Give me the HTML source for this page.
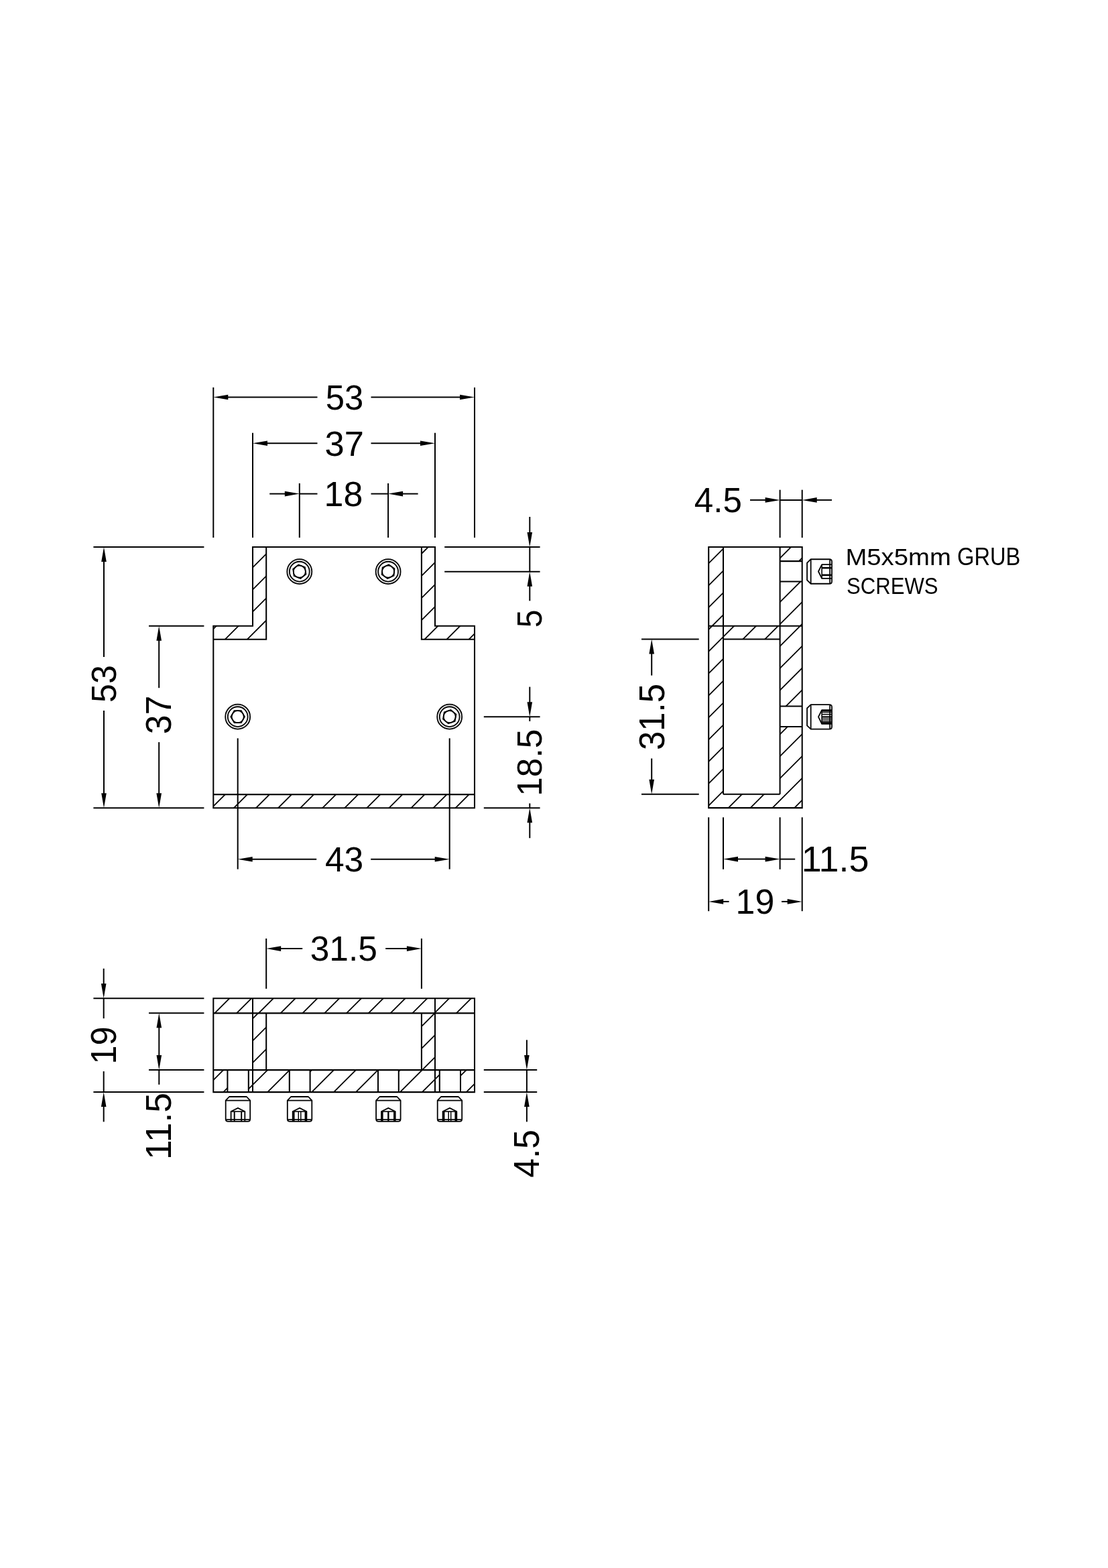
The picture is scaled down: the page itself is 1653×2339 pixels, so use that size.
<!DOCTYPE html>
<html lang="en">
<head>
<meta charset="utf-8">
<title>T-connector technical drawing</title>
<style>
html,body{margin:0;padding:0;background:#fff;}
body{width:1653px;height:2339px;overflow:hidden;}
svg{display:block;will-change:transform;}
svg line, svg path, svg circle{stroke:#000;}
svg text{fill:#000;}
</style>
</head>
<body>
<svg width="1653" height="2339" viewBox="0 0 1653 2339" fill="none" stroke="#000" stroke-linecap="butt" stroke-linejoin="miter">
<rect x="0" y="0" width="1653" height="2339" fill="#fff" stroke="none"/>
<defs>
<clipPath id="c1"><path d="M377 815.9 L397.2 815.9 L397.2 953.8 L318.3 953.8 L318.3 933.75 L377 933.75 Z " clip-rule="evenodd"/></clipPath>
<clipPath id="c2"><path d="M628.9 815.9 L649 815.9 L649 933.75 L708 933.75 L708 953.8 L628.9 953.8 Z " clip-rule="evenodd"/></clipPath>
<clipPath id="c3"><path d="M318.3 1185.1 L708 1185.1 L708 1205.2 L318.3 1205.2 Z " clip-rule="evenodd"/></clipPath>
<clipPath id="c4"><path d="M318.3 1489.3 L708 1489.3 L708 1511.35 L318.3 1511.35 Z " clip-rule="evenodd"/></clipPath>
<clipPath id="c5"><path d="M377 1511.35 L397.2 1511.35 L397.2 1596.1 L377 1596.1 Z " clip-rule="evenodd"/></clipPath>
<clipPath id="c6"><path d="M628.9 1511.35 L649 1511.35 L649 1596.1 L628.9 1596.1 Z " clip-rule="evenodd"/></clipPath>
<clipPath id="c7"><path d="M318.3 1596.1 L339.4 1596.1 L339.4 1629.1 L318.3 1629.1 Z " clip-rule="evenodd"/></clipPath>
<clipPath id="c8"><path d="M370.8 1596.1 L377 1596.1 L377 1629.1 L370.8 1629.1 Z " clip-rule="evenodd"/></clipPath>
<clipPath id="c9"><path d="M377 1596.1 L431.8 1596.1 L431.8 1629.1 L377 1629.1 Z " clip-rule="evenodd"/></clipPath>
<clipPath id="c10"><path d="M462.6 1596.1 L564 1596.1 L564 1629.1 L462.6 1629.1 Z " clip-rule="evenodd"/></clipPath>
<clipPath id="c11"><path d="M594.8 1596.1 L649 1596.1 L649 1629.1 L594.8 1629.1 Z " clip-rule="evenodd"/></clipPath>
<clipPath id="c12"><path d="M649 1596.1 L655.8 1596.1 L655.8 1629.1 L649 1629.1 Z " clip-rule="evenodd"/></clipPath>
<clipPath id="c13"><path d="M687 1596.1 L708 1596.1 L708 1629.1 L687 1629.1 Z " clip-rule="evenodd"/></clipPath>
<clipPath id="c14"><path d="M1057.2 815.9 L1079 815.9 L1079 933.7 L1057.2 933.7 Z " clip-rule="evenodd"/></clipPath>
<clipPath id="c15"><path d="M1163.6 815.9 L1196.7 815.9 L1196.7 837.1 L1163.6 837.1 Z " clip-rule="evenodd"/></clipPath>
<clipPath id="c16"><path d="M1163.6 867.4 L1196.7 867.4 L1196.7 933.7 L1163.6 933.7 Z " clip-rule="evenodd"/></clipPath>
<clipPath id="c17"><path d="M1079 933.7 L1163.6 933.7 L1163.6 953.5 L1079 953.5 Z " clip-rule="evenodd"/></clipPath>
<clipPath id="c18"><path d="M1057.2 933.7 L1079 933.7 L1079 1184.8 L1163.6 1184.8 L1163.6 933.7 L1196.7 933.7 L1196.7 1053.5 L1163.6 1053.5 L1163.6 1083.9 L1196.7 1083.9 L1196.7 1205.1 L1057.2 1205.1 Z " clip-rule="evenodd"/></clipPath>
</defs>
<g id="geometry">
<path d="M316.3 840.96 L399.2 758.06 M316.3 874.03 L399.2 791.13 M316.3 907.1 L399.2 824.2 M316.3 940.17 L399.2 857.27 M316.3 973.24 L399.2 890.34 M316.3 1006.31 L399.2 923.41 " stroke-width="1.8" fill="none" clip-path="url(#c1)"/>
<path d="M626.9 827.99 L710 744.89 M626.9 861.06 L710 777.96 M626.9 894.13 L710 811.03 M626.9 927.2 L710 844.1 M626.9 960.27 L710 877.17 M626.9 993.34 L710 910.24 M626.9 1026.41 L710 943.31 " stroke-width="1.8" fill="none" clip-path="url(#c2)"/>
<path d="M316.3 1204.73 L710 811.03 M316.3 1237.8 L710 844.1 M316.3 1270.87 L710 877.17 M316.3 1303.94 L710 910.24 M316.3 1337.01 L710 943.31 M316.3 1370.08 L710 976.38 M316.3 1403.15 L710 1009.45 M316.3 1436.22 L710 1042.52 M316.3 1469.29 L710 1075.59 M316.3 1502.36 L710 1108.66 M316.3 1535.43 L710 1141.73 M316.3 1568.5 L710 1174.8 " stroke-width="1.8" fill="none" clip-path="url(#c3)"/>
<path d="M377 815.9 L649 815.9 L649 933.75 L708 933.75 L708 1205.2 L318.3 1205.2 L318.3 933.75 L377 933.75 Z" stroke-width="2.05" fill="none"/>
<path d="M397.2 815.9 L397.2 953.8 L318.3 953.8" stroke-width="2.05" fill="none"/>
<path d="M628.9 815.9 L628.9 953.8 L708 953.8" stroke-width="2.05" fill="none"/>
<line x1="318.3" y1="1185.1" x2="708" y2="1185.1" stroke-width="2.05"/>
<circle cx="446.8" cy="852.65" r="18.5" stroke-width="1.75" fill="none"/>
<circle cx="446.8" cy="852.65" r="17.0" stroke-width="0.5" fill="none" opacity="0.35"/>
<circle cx="446.8" cy="852.65" r="14.9" stroke-width="1.8" fill="none"/>
<circle cx="446.8" cy="852.65" r="9.0" stroke-width="1.7" fill="none"/>
<path d="M456.48 856.46 L448.34 862.94 L438.66 859.12 L437.12 848.84 L445.26 842.36 L454.94 846.18 Z" stroke-width="1.7" fill="none"/>
<circle cx="579.1" cy="852.65" r="18.5" stroke-width="1.75" fill="none"/>
<circle cx="579.1" cy="852.65" r="17.0" stroke-width="0.5" fill="none" opacity="0.35"/>
<circle cx="579.1" cy="852.65" r="14.9" stroke-width="1.8" fill="none"/>
<circle cx="579.1" cy="852.65" r="9.0" stroke-width="1.7" fill="none"/>
<path d="M587.62 858.62 L578.19 863.01 L569.67 857.05 L570.58 846.68 L580.01 842.29 L588.53 848.25 Z" stroke-width="1.7" fill="none"/>
<circle cx="354.7" cy="1069.15" r="18.5" stroke-width="1.75" fill="none"/>
<circle cx="354.7" cy="1069.15" r="17.0" stroke-width="0.5" fill="none" opacity="0.35"/>
<circle cx="354.7" cy="1069.15" r="14.9" stroke-width="1.8" fill="none"/>
<circle cx="354.7" cy="1069.15" r="9.0" stroke-width="1.7" fill="none"/>
<path d="M365.1 1069.15 L359.9 1078.16 L349.5 1078.16 L344.3 1069.15 L349.5 1060.14 L359.9 1060.14 Z" stroke-width="1.7" fill="none"/>
<circle cx="670.7" cy="1069.15" r="18.5" stroke-width="1.75" fill="none"/>
<circle cx="670.7" cy="1069.15" r="17.0" stroke-width="0.5" fill="none" opacity="0.35"/>
<circle cx="670.7" cy="1069.15" r="14.9" stroke-width="1.8" fill="none"/>
<circle cx="670.7" cy="1069.15" r="9.0" stroke-width="1.7" fill="none"/>
<path d="M678.67 1075.83 L668.89 1079.39 L660.93 1072.71 L662.73 1062.47 L672.51 1058.91 L680.47 1065.59 Z" stroke-width="1.7" fill="none"/>
<line x1="318.3" y1="577.9" x2="318.3" y2="802" stroke-width="2.0"/>
<line x1="708" y1="577.9" x2="708" y2="802" stroke-width="2.0"/>
<line x1="339.3" y1="592.5" x2="473.5" y2="592.5" stroke-width="2.0"/>
<line x1="553.5" y1="592.5" x2="687" y2="592.5" stroke-width="2.0"/>
<polygon points="318.3,592.5 340.3,588.7 340.3,596.3" fill="#000" stroke="none"/>
<polygon points="708,592.5 686,596.3 686,588.7" fill="#000" stroke="none"/>
<line x1="377" y1="645.8" x2="377" y2="802" stroke-width="2.0"/>
<line x1="649" y1="645.8" x2="649" y2="802" stroke-width="2.0"/>
<line x1="398" y1="661.3" x2="473.5" y2="661.3" stroke-width="2.0"/>
<line x1="553.5" y1="661.3" x2="628" y2="661.3" stroke-width="2.0"/>
<polygon points="377,661.3 399,657.5 399,665.1" fill="#000" stroke="none"/>
<polygon points="649,661.3 627,665.1 627,657.5" fill="#000" stroke="none"/>
<line x1="446.8" y1="721" x2="446.8" y2="802" stroke-width="2.0"/>
<line x1="579.1" y1="721" x2="579.1" y2="802" stroke-width="2.0"/>
<line x1="402.2" y1="736.6" x2="425.8" y2="736.6" stroke-width="2.0"/>
<polygon points="446.8,736.6 424.8,740.4 424.8,732.8" fill="#000" stroke="none"/>
<line x1="446.8" y1="736.6" x2="473.5" y2="736.6" stroke-width="2.0"/>
<line x1="553.5" y1="736.6" x2="579.1" y2="736.6" stroke-width="2.0"/>
<polygon points="579.1,736.6 601.1,732.8 601.1,740.4" fill="#000" stroke="none"/>
<line x1="600.1" y1="736.6" x2="623.6" y2="736.6" stroke-width="2.0"/>
<line x1="663.2" y1="815.9" x2="805.6" y2="815.9" stroke-width="2.0"/>
<line x1="663.2" y1="852.65" x2="805.6" y2="852.65" stroke-width="2.0"/>
<line x1="790.3" y1="771" x2="790.3" y2="794.9" stroke-width="2.0"/>
<polygon points="790.3,815.9 786.5,793.9 794.1,793.9" fill="#000" stroke="none"/>
<line x1="790.3" y1="815.9" x2="790.3" y2="852.65" stroke-width="2.0"/>
<polygon points="790.3,852.65 794.1,874.65 786.5,874.65" fill="#000" stroke="none"/>
<line x1="790.3" y1="873.65" x2="790.3" y2="896.3" stroke-width="2.0"/>
<line x1="139.4" y1="815.9" x2="304.4" y2="815.9" stroke-width="2.0"/>
<line x1="139.4" y1="1205.2" x2="304.4" y2="1205.2" stroke-width="2.0"/>
<line x1="155" y1="836.9" x2="155" y2="979.9" stroke-width="2.0"/>
<line x1="155" y1="1059.9" x2="155" y2="1184.2" stroke-width="2.0"/>
<polygon points="155,815.9 158.8,837.9 151.2,837.9" fill="#000" stroke="none"/>
<polygon points="155,1205.2 151.2,1183.2 158.8,1183.2" fill="#000" stroke="none"/>
<line x1="222" y1="933.75" x2="304.4" y2="933.75" stroke-width="2.0"/>
<line x1="237.2" y1="954.75" x2="237.2" y2="1026.2" stroke-width="2.0"/>
<line x1="237.2" y1="1107.1" x2="237.2" y2="1184.2" stroke-width="2.0"/>
<polygon points="237.2,933.75 241,955.75 233.4,955.75" fill="#000" stroke="none"/>
<polygon points="237.2,1205.2 233.4,1183.2 241,1183.2" fill="#000" stroke="none"/>
<line x1="721.8" y1="1069.15" x2="805.6" y2="1069.15" stroke-width="2.0"/>
<line x1="721.8" y1="1205.2" x2="805.6" y2="1205.2" stroke-width="2.0"/>
<line x1="790.3" y1="1024.6" x2="790.3" y2="1048.15" stroke-width="2.0"/>
<polygon points="790.3,1069.15 786.5,1047.15 794.1,1047.15" fill="#000" stroke="none"/>
<line x1="790.3" y1="1069.15" x2="790.3" y2="1075.9" stroke-width="2.0"/>
<line x1="790.3" y1="1198.4" x2="790.3" y2="1205.2" stroke-width="2.0"/>
<polygon points="790.3,1205.2 794.1,1227.2 786.5,1227.2" fill="#000" stroke="none"/>
<line x1="790.3" y1="1226.2" x2="790.3" y2="1250.2" stroke-width="2.0"/>
<line x1="354.7" y1="1101.3" x2="354.7" y2="1296.6" stroke-width="2.0"/>
<line x1="670.7" y1="1101.3" x2="670.7" y2="1296.6" stroke-width="2.0"/>
<line x1="375.7" y1="1281.8" x2="472.2" y2="1281.8" stroke-width="2.0"/>
<line x1="553.2" y1="1281.8" x2="649.7" y2="1281.8" stroke-width="2.0"/>
<polygon points="354.7,1281.8 376.7,1278 376.7,1285.6" fill="#000" stroke="none"/>
<polygon points="670.7,1281.8 648.7,1285.6 648.7,1278" fill="#000" stroke="none"/>
<path d="M316.3 1515.34 L710 1121.64 M316.3 1548.12 L710 1154.42 M316.3 1580.9 L710 1187.2 M316.3 1613.68 L710 1219.98 M316.3 1646.46 L710 1252.76 M316.3 1679.24 L710 1285.54 M316.3 1712.02 L710 1318.32 M316.3 1744.8 L710 1351.1 M316.3 1777.58 L710 1383.88 M316.3 1810.36 L710 1416.66 M316.3 1843.14 L710 1449.44 M316.3 1875.92 L710 1482.22 " stroke-width="1.8" fill="none" clip-path="url(#c4)"/>
<path d="M375 1521.45 L399.2 1497.25 M375 1554.4 L399.2 1530.2 M375 1587.35 L399.2 1563.15 " stroke-width="1.8" fill="none" clip-path="url(#c5)"/>
<path d="M626.9 1533.15 L651 1509.05 M626.9 1566.1 L651 1542 M626.9 1599.05 L651 1574.95 " stroke-width="1.8" fill="none" clip-path="url(#c6)"/>
<path d="M316.3 1613.1 L341.4 1588 M316.3 1646.05 L341.4 1620.95 " stroke-width="1.8" fill="none" clip-path="url(#c7)"/>
<path d="M368.8 1626.5 L379 1616.3 " stroke-width="1.8" fill="none" clip-path="url(#c8)"/>
<path d="M375 1620.3 L433.8 1561.5 M375 1653.25 L433.8 1594.45 " stroke-width="1.8" fill="none" clip-path="url(#c9)"/>
<path d="M460.6 1600.6 L566 1495.2 M460.6 1633.55 L566 1528.15 M460.6 1666.5 L566 1561.1 M460.6 1699.45 L566 1594.05 M460.6 1732.4 L566 1627 " stroke-width="1.8" fill="none" clip-path="url(#c10)"/>
<path d="M592.8 1600.2 L651 1542 M592.8 1633.15 L651 1574.95 M592.8 1666.1 L651 1607.9 " stroke-width="1.8" fill="none" clip-path="url(#c11)"/>
<path d="M647 1611.9 L657.8 1601.1 " stroke-width="1.8" fill="none" clip-path="url(#c12)"/>
<path d="M685 1606.85 L710 1581.85 M685 1639.8 L710 1614.8 " stroke-width="1.8" fill="none" clip-path="url(#c13)"/>
<path d="M318.3 1489.3 L708 1489.3 L708 1629.1 L318.3 1629.1 Z" stroke-width="2.05" fill="none"/>
<line x1="318.3" y1="1511.35" x2="708" y2="1511.35" stroke-width="2.05"/>
<line x1="318.3" y1="1596.1" x2="708" y2="1596.1" stroke-width="2.05"/>
<line x1="377" y1="1489.3" x2="377" y2="1629.1" stroke-width="2.05"/>
<line x1="649" y1="1489.3" x2="649" y2="1629.1" stroke-width="2.05"/>
<line x1="397.2" y1="1511.35" x2="397.2" y2="1596.1" stroke-width="2.05"/>
<line x1="628.9" y1="1511.35" x2="628.9" y2="1596.1" stroke-width="2.05"/>
<line x1="339.4" y1="1596.1" x2="339.4" y2="1629.1" stroke-width="2.05"/>
<line x1="370.8" y1="1596.1" x2="370.8" y2="1629.1" stroke-width="2.05"/>
<line x1="431.8" y1="1596.1" x2="431.8" y2="1629.1" stroke-width="2.05"/>
<line x1="462.6" y1="1596.1" x2="462.6" y2="1629.1" stroke-width="2.05"/>
<line x1="564" y1="1596.1" x2="564" y2="1629.1" stroke-width="2.05"/>
<line x1="594.8" y1="1596.1" x2="594.8" y2="1629.1" stroke-width="2.05"/>
<line x1="655.8" y1="1596.1" x2="655.8" y2="1629.1" stroke-width="2.05"/>
<line x1="687" y1="1596.1" x2="687" y2="1629.1" stroke-width="2.05"/>
<path d="M336.7 1641.6 L342 1636 L367.9 1636 L373.2 1641.6 L373.2 1669.35 Q373.2 1672.95 369.6 1672.95 L340.3 1672.95 Q336.7 1672.95 336.7 1669.35 Z" stroke-width="1.8" fill="none" stroke-linejoin="round"/>
<path d="M336.7 1641.6 L373.2 1641.6" stroke-width="1.8" fill="none" />
<path d="M337.3 1670.05 L372.6 1670.05" stroke-width="1.7" fill="none" />
<path d="M344.6 1672.45 L344.6 1658.05 L354.95 1652.9 L365.3 1658.05 L365.3 1672.45" stroke-width="1.8" fill="none" stroke-linejoin="round"/>
<path d="M344.6 1658.05 L365.3 1658.05" stroke-width="1.6" fill="none" />
<path d="M349.7 1658.05 L349.7 1672.45" stroke-width="2.0" fill="none" />
<path d="M360.2 1658.05 L360.2 1672.45" stroke-width="2.0" fill="none" />
<path d="M428.8 1641.6 L434.1 1636 L460 1636 L465.3 1641.6 L465.3 1669.35 Q465.3 1672.95 461.7 1672.95 L432.4 1672.95 Q428.8 1672.95 428.8 1669.35 Z" stroke-width="1.8" fill="none" stroke-linejoin="round"/>
<path d="M428.8 1641.6 L465.3 1641.6" stroke-width="1.8" fill="none" />
<path d="M429.4 1670.05 L464.7 1670.05" stroke-width="1.7" fill="none" />
<path d="M436.7 1672.45 L436.7 1658.05 L447.05 1652.9 L457.4 1658.05 L457.4 1672.45" stroke-width="1.8" fill="none" stroke-linejoin="round"/>
<path d="M436.7 1658.05 L457.4 1658.05" stroke-width="1.6" fill="none" />
<path d="M438.35 1658.05 L438.35 1672.45" stroke-width="2.4" fill="none" />
<path d="M455.75 1658.05 L455.75 1672.45" stroke-width="2.4" fill="none" />
<path d="M445.3 1658.05 L445.3 1672.45" stroke-width="1.5" fill="none" />
<path d="M448.8 1658.05 L448.8 1672.45" stroke-width="1.5" fill="none" />
<path d="M561.1 1641.6 L566.4 1636 L592.3 1636 L597.6 1641.6 L597.6 1669.35 Q597.6 1672.95 594 1672.95 L564.7 1672.95 Q561.1 1672.95 561.1 1669.35 Z" stroke-width="1.8" fill="none" stroke-linejoin="round"/>
<path d="M561.1 1641.6 L597.6 1641.6" stroke-width="1.8" fill="none" />
<path d="M561.7 1670.05 L597 1670.05" stroke-width="1.7" fill="none" />
<path d="M569 1672.45 L569 1658.05 L579.35 1652.9 L589.7 1658.05 L589.7 1672.45" stroke-width="1.8" fill="none" stroke-linejoin="round"/>
<path d="M569 1658.05 L589.7 1658.05" stroke-width="1.6" fill="none" />
<path d="M570.55 1658.05 L570.55 1672.45" stroke-width="2.2" fill="none" />
<path d="M588.15 1658.05 L588.15 1672.45" stroke-width="2.2" fill="none" />
<path d="M579.35 1658.05 L579.35 1672.45" stroke-width="2.4" fill="none" />
<path d="M652.7 1641.6 L658 1636 L683.9 1636 L689.2 1641.6 L689.2 1669.35 Q689.2 1672.95 685.6 1672.95 L656.3 1672.95 Q652.7 1672.95 652.7 1669.35 Z" stroke-width="1.8" fill="none" stroke-linejoin="round"/>
<path d="M652.7 1641.6 L689.2 1641.6" stroke-width="1.8" fill="none" />
<path d="M653.3 1670.05 L688.6 1670.05" stroke-width="1.7" fill="none" />
<path d="M660.6 1672.45 L660.6 1658.05 L670.95 1652.9 L681.3 1658.05 L681.3 1672.45" stroke-width="1.8" fill="none" stroke-linejoin="round"/>
<path d="M660.6 1658.05 L681.3 1658.05" stroke-width="1.6" fill="none" />
<path d="M662.25 1658.05 L662.25 1672.45" stroke-width="2.4" fill="none" />
<path d="M679.65 1658.05 L679.65 1672.45" stroke-width="2.4" fill="none" />
<path d="M669.2 1658.05 L669.2 1672.45" stroke-width="1.5" fill="none" />
<path d="M672.7 1658.05 L672.7 1672.45" stroke-width="1.5" fill="none" />
<line x1="397.2" y1="1400" x2="397.2" y2="1474.9" stroke-width="2.0"/>
<line x1="628.9" y1="1400" x2="628.9" y2="1474.9" stroke-width="2.0"/>
<line x1="418.2" y1="1415.1" x2="451.2" y2="1415.1" stroke-width="2.0"/>
<line x1="575.2" y1="1415.1" x2="607.9" y2="1415.1" stroke-width="2.0"/>
<polygon points="397.2,1415.1 419.2,1411.3 419.2,1418.9" fill="#000" stroke="none"/>
<polygon points="628.9,1415.1 606.9,1418.9 606.9,1411.3" fill="#000" stroke="none"/>
<line x1="139.4" y1="1489.3" x2="304.4" y2="1489.3" stroke-width="2.0"/>
<line x1="139.4" y1="1629.1" x2="304.4" y2="1629.1" stroke-width="2.0"/>
<line x1="154.7" y1="1444.8" x2="154.7" y2="1468.3" stroke-width="2.0"/>
<polygon points="154.7,1489.3 150.9,1467.3 158.5,1467.3" fill="#000" stroke="none"/>
<line x1="154.7" y1="1489.3" x2="154.7" y2="1519.2" stroke-width="2.0"/>
<line x1="154.7" y1="1598.1" x2="154.7" y2="1629.1" stroke-width="2.0"/>
<polygon points="154.7,1629.1 158.5,1651.1 150.9,1651.1" fill="#000" stroke="none"/>
<line x1="154.7" y1="1650.1" x2="154.7" y2="1673.4" stroke-width="2.0"/>
<line x1="222" y1="1511.35" x2="304.4" y2="1511.35" stroke-width="2.0"/>
<line x1="222" y1="1596.1" x2="304.4" y2="1596.1" stroke-width="2.0"/>
<polygon points="237.3,1511.35 241.1,1533.35 233.5,1533.35" fill="#000" stroke="none"/>
<polygon points="237.3,1596.1 233.5,1574.1 241.1,1574.1" fill="#000" stroke="none"/>
<line x1="237.3" y1="1532.35" x2="237.3" y2="1575.1" stroke-width="2.0"/>
<line x1="237.3" y1="1596.1" x2="237.3" y2="1617.9" stroke-width="2.0"/>
<line x1="721.8" y1="1596.1" x2="801.2" y2="1596.1" stroke-width="2.0"/>
<line x1="721.8" y1="1629.1" x2="801.2" y2="1629.1" stroke-width="2.0"/>
<line x1="785.9" y1="1551.3" x2="785.9" y2="1575.1" stroke-width="2.0"/>
<polygon points="785.9,1596.1 782.1,1574.1 789.7,1574.1" fill="#000" stroke="none"/>
<line x1="785.9" y1="1596.1" x2="785.9" y2="1629.1" stroke-width="2.0"/>
<polygon points="785.9,1629.1 789.7,1651.1 782.1,1651.1" fill="#000" stroke="none"/>
<line x1="785.9" y1="1650.1" x2="785.9" y2="1673.4" stroke-width="2.0"/>
<path d="M1055.2 842.4 L1081 816.6 M1055.2 875.25 L1081 849.45 M1055.2 908.1 L1081 882.3 M1055.2 940.95 L1081 915.15 " stroke-width="1.8" fill="none" clip-path="url(#c14)"/>
<path d="M1161.6 834.55 L1198.7 797.45 M1161.6 867.4 L1198.7 830.3 " stroke-width="1.8" fill="none" clip-path="url(#c15)"/>
<path d="M1161.6 900.25 L1198.7 863.15 M1161.6 933.1 L1198.7 896 M1161.6 965.95 L1198.7 928.85 " stroke-width="1.8" fill="none" clip-path="url(#c16)"/>
<path d="M1077 952 L1165.6 863.4 M1077 984.85 L1165.6 896.25 M1077 1017.7 L1165.6 929.1 " stroke-width="1.8" fill="none" clip-path="url(#c17)"/>
<path d="M1055.2 940.95 L1198.7 797.45 M1055.2 973.8 L1198.7 830.3 M1055.2 1006.65 L1198.7 863.15 M1055.2 1039.5 L1198.7 896 M1055.2 1072.35 L1198.7 928.85 M1055.2 1105.2 L1198.7 961.7 M1055.2 1138.05 L1198.7 994.55 M1055.2 1170.9 L1198.7 1027.4 M1055.2 1203.75 L1198.7 1060.25 M1055.2 1236.6 L1198.7 1093.1 M1055.2 1269.45 L1198.7 1125.95 M1055.2 1302.3 L1198.7 1158.8 M1055.2 1335.15 L1198.7 1191.65 " stroke-width="1.8" fill="none" clip-path="url(#c18)"/>
<path d="M1057.2 815.9 L1196.7 815.9 L1196.7 1205.1 L1057.2 1205.1 Z" stroke-width="2.05" fill="none"/>
<line x1="1079" y1="815.9" x2="1079" y2="1184.8" stroke-width="2.05"/>
<line x1="1163.6" y1="815.9" x2="1163.6" y2="1184.8" stroke-width="2.05"/>
<line x1="1057.2" y1="933.7" x2="1196.7" y2="933.7" stroke-width="2.05"/>
<line x1="1079" y1="953.5" x2="1163.6" y2="953.5" stroke-width="2.05"/>
<line x1="1079" y1="1184.8" x2="1163.6" y2="1184.8" stroke-width="2.05"/>
<line x1="1163.6" y1="837.1" x2="1196.7" y2="837.1" stroke-width="2.05"/>
<line x1="1163.6" y1="867.4" x2="1196.7" y2="867.4" stroke-width="2.05"/>
<line x1="1163.6" y1="1053.5" x2="1196.7" y2="1053.5" stroke-width="2.05"/>
<line x1="1163.6" y1="1083.9" x2="1196.7" y2="1083.9" stroke-width="2.05"/>
<path d="M1209.66 834.25 L1204.06 839.55 L1204.06 865.45 L1209.66 870.75 L1237.41 870.75 Q1241.01 870.75 1241.01 867.15 L1241.01 837.85 Q1241.01 834.25 1237.41 834.25 Z" stroke-width="1.8" fill="none" stroke-linejoin="round"/>
<path d="M1209.66 834.25 L1209.66 870.75" stroke-width="1.8" fill="none" />
<path d="M1238.11 834.85 L1238.11 870.15" stroke-width="1.7" fill="none" />
<path d="M1240.51 842.15 L1226.11 842.15 L1220.96 852.5 L1226.11 862.85 L1240.51 862.85" stroke-width="1.8" fill="none" stroke-linejoin="round"/>
<path d="M1226.11 842.15 L1226.11 862.85" stroke-width="1.6" fill="none" />
<path d="M1226.11 847.15 L1240.51 847.15" stroke-width="2.6" fill="none" />
<path d="M1226.11 857.85 L1240.51 857.85" stroke-width="2.6" fill="none" />
<path d="M1209.66 1051.22 L1204.06 1056.52 L1204.06 1082.42 L1209.66 1087.72 L1237.41 1087.72 Q1241.01 1087.72 1241.01 1084.12 L1241.01 1054.82 Q1241.01 1051.22 1237.41 1051.22 Z" stroke-width="1.8" fill="none" stroke-linejoin="round"/>
<path d="M1209.66 1051.22 L1209.66 1087.72" stroke-width="1.8" fill="none" />
<path d="M1238.11 1051.82 L1238.11 1087.12" stroke-width="1.7" fill="none" />
<path d="M1240.51 1059.12 L1226.11 1059.12 L1220.96 1069.47 L1226.11 1079.82 L1240.51 1079.82" stroke-width="1.8" fill="none" stroke-linejoin="round"/>
<path d="M1226.11 1059.12 L1226.11 1079.82" stroke-width="1.6" fill="none" />
<path d="M1226.11 1062.47 L1240.51 1062.47" stroke-width="1.3" fill="none" />
<path d="M1226.11 1065.57 L1240.51 1065.57" stroke-width="1.6" fill="none" />
<path d="M1226.11 1069.47 L1240.51 1069.47" stroke-width="2.3" fill="none" />
<path d="M1226.11 1072.57 L1240.51 1072.57" stroke-width="1.6" fill="none" />
<path d="M1226.11 1075.57 L1240.51 1075.57" stroke-width="1.6" fill="none" />
<path d="M1226.11 1078.07 L1240.51 1078.07" stroke-width="2.4" fill="none" />
<path d="M1226.11 1060.57 L1240.51 1060.57" stroke-width="1.8" fill="none" />
<line x1="1163.6" y1="730.7" x2="1163.6" y2="802.1" stroke-width="2.0"/>
<line x1="1196.7" y1="730.7" x2="1196.7" y2="802.1" stroke-width="2.0"/>
<line x1="1119" y1="745.9" x2="1142.6" y2="745.9" stroke-width="2.0"/>
<polygon points="1163.6,745.9 1141.6,749.7 1141.6,742.1" fill="#000" stroke="none"/>
<line x1="1163.6" y1="745.9" x2="1196.7" y2="745.9" stroke-width="2.0"/>
<polygon points="1196.7,745.9 1218.7,742.1 1218.7,749.7" fill="#000" stroke="none"/>
<line x1="1217.7" y1="745.9" x2="1241" y2="745.9" stroke-width="2.0"/>
<line x1="957" y1="953.5" x2="1042.7" y2="953.5" stroke-width="2.0"/>
<line x1="957" y1="1184.8" x2="1042.7" y2="1184.8" stroke-width="2.0"/>
<line x1="972.2" y1="974.5" x2="972.2" y2="1007.6" stroke-width="2.0"/>
<line x1="972.2" y1="1131.4" x2="972.2" y2="1163.8" stroke-width="2.0"/>
<polygon points="972.2,953.5 976,975.5 968.4,975.5" fill="#000" stroke="none"/>
<polygon points="972.2,1184.8 968.4,1162.8 976,1162.8" fill="#000" stroke="none"/>
<line x1="1057.2" y1="1219.2" x2="1057.2" y2="1359.2" stroke-width="2.0"/>
<line x1="1196.7" y1="1219.2" x2="1196.7" y2="1359.2" stroke-width="2.0"/>
<line x1="1079" y1="1219.2" x2="1079" y2="1296.8" stroke-width="2.0"/>
<line x1="1163.6" y1="1219.2" x2="1163.6" y2="1296.8" stroke-width="2.0"/>
<polygon points="1079,1281.6 1101,1277.8 1101,1285.4" fill="#000" stroke="none"/>
<polygon points="1163.6,1281.6 1141.6,1285.4 1141.6,1277.8" fill="#000" stroke="none"/>
<line x1="1100" y1="1281.6" x2="1142.6" y2="1281.6" stroke-width="2.0"/>
<line x1="1163.6" y1="1281.6" x2="1186.2" y2="1281.6" stroke-width="2.0"/>
<polygon points="1057.2,1344.9 1079.2,1341.1 1079.2,1348.7" fill="#000" stroke="none"/>
<line x1="1078.2" y1="1344.9" x2="1087.6" y2="1344.9" stroke-width="2.0"/>
<polygon points="1196.7,1344.9 1174.7,1348.7 1174.7,1341.1" fill="#000" stroke="none"/>
<line x1="1166" y1="1344.9" x2="1175.7" y2="1344.9" stroke-width="2.0"/>
</g>
<g id="labels" stroke="none">
<text transform="translate(485.77 610.78) scale(0.9744 1)" font-size="52.11" font-family="'Liberation Sans', sans-serif">53</text>
<text transform="translate(484.6 679.98) scale(1.0092 1)" font-size="51.97" font-family="'Liberation Sans', sans-serif">37</text>
<text transform="translate(483.5 754.98) scale(0.9998 1)" font-size="51.97" font-family="'Liberation Sans', sans-serif">18</text>
<text transform="translate(807.67 936.13) rotate(-90) scale(0.9170 1)" font-size="52.57" font-family="'Liberation Sans', sans-serif">5</text>
<text transform="translate(173.17 1047.91) rotate(-90) scale(0.9529 1)" font-size="52.68" font-family="'Liberation Sans', sans-serif">53</text>
<text transform="translate(255.07 1095.37) rotate(-90) scale(0.9801 1)" font-size="52.82" font-family="'Liberation Sans', sans-serif">37</text>
<text transform="translate(807.68 1187.76) rotate(-90) scale(0.9931 1)" font-size="51.83" font-family="'Liberation Sans', sans-serif">18.5</text>
<text transform="translate(484.91 1299.78) scale(0.9898 1)" font-size="52.11" font-family="'Liberation Sans', sans-serif">43</text>
<text transform="translate(462.64 1433.38) scale(0.9888 1)" font-size="52.11" font-family="'Liberation Sans', sans-serif">31.5</text>
<text transform="translate(173.46 1587.81) rotate(-90) scale(0.9468 1)" font-size="53.66" font-family="'Liberation Sans', sans-serif">19</text>
<text transform="translate(254.97 1730.01) rotate(-90) scale(1.0004 1)" font-size="53.43" font-family="'Liberation Sans', sans-serif">11.5</text>
<text transform="translate(803.87 1756.79) rotate(-90) scale(0.9688 1)" font-size="53.29" font-family="'Liberation Sans', sans-serif">4.5</text>
<text transform="translate(1035.82 763.98) scale(0.9867 1)" font-size="51.86" font-family="'Liberation Sans', sans-serif">4.5</text>
<text transform="translate(1261.44 842.74) scale(1.0635 1)" font-size="36.00" font-family="'Liberation Sans', sans-serif">M5x5mm</text>
<text transform="translate(1427.96 842.74) scale(0.9090 1)" font-size="35.99" font-family="'Liberation Sans', sans-serif">GRUB</text>
<text transform="translate(1263.1 885.94) scale(0.8657 1)" font-size="35.92" font-family="'Liberation Sans', sans-serif">SCREWS</text>
<text transform="translate(991.17 1119.04) rotate(-90) scale(0.9568 1)" font-size="53.24" font-family="'Liberation Sans', sans-serif">31.5</text>
<text transform="translate(1195.66 1299.97) scale(1.0132 1)" font-size="53.14" font-family="'Liberation Sans', sans-serif">11.5</text>
<text transform="translate(1097.51 1362.88) scale(0.9963 1)" font-size="52.11" font-family="'Liberation Sans', sans-serif">19</text>
</g>
</svg>
</body>
</html>
